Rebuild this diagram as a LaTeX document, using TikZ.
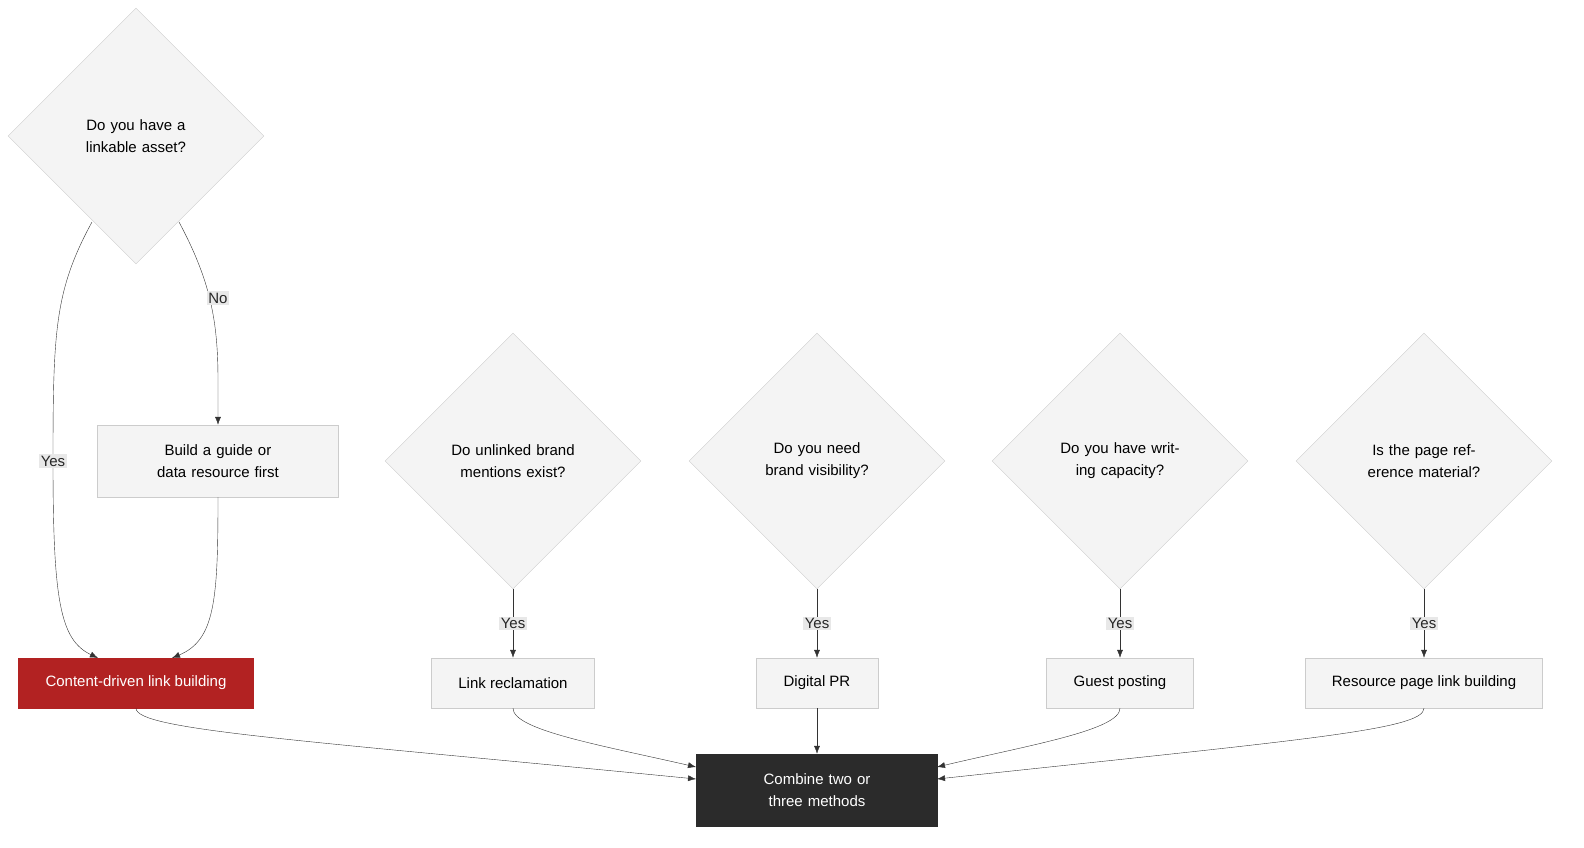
\documentclass[tikz,border=0pt]{standalone}
\usepackage{fontspec}
\setmainfont{Liberation Sans}
\usetikzlibrary{shapes.geometric,arrows.meta}
\definecolor{nodefill}{HTML}{F4F4F4}
\definecolor{nodeline}{HTML}{CCCCCC}
\definecolor{redbox}{HTML}{B22222}
\definecolor{darkbox}{HTML}{2B2B2B}
\definecolor{lblfill}{HTML}{E8E8E8}
\tikzset{
  question/.style={diamond, aspect=1, minimum width=256pt, minimum height=256pt, inner sep=0pt,
    fill=nodefill, draw=nodeline, text width=150pt, align=center, font=\fontsize{15}{22}\selectfont},
  method/.style={rectangle, fill=nodefill, draw=nodeline, minimum height=50pt, align=center,
    font=\fontsize{15}{22}\selectfont},
  link/.style={draw=black!80, -{Latex[length=8pt,width=6pt]}},
  lbl/.style={fill=lblfill, inner sep=1.5pt, font=\fontsize{15}{18}\selectfont, text=black!85}
}
\begin{document}
\begin{tikzpicture}[x=1pt,y=-1pt]
\useasboundingbox (0,0) rectangle (1584,848);
% decisions
\node[question] (asset) at (136,136) {Do you have a linkable asset?};
\node[question] (mentions) at (513,461) {Do unlinked brand mentions exist?};
\node[question] (visible) at (817,461) {Do you need brand visibility?};
\node[question] (writing) at (1120,461) {Do you have writing capacity?};
\node[question] (refpage) at (1424,461) {Is the page reference material?};
% methods
\node[method, minimum width=241pt, minimum height=72pt, text width=200pt] (guide) at (218,461) {Build a guide or data resource first};
\node[method, minimum width=235pt, fill=redbox, draw=redbox, text=white] (content) at (136,683) {Content-driven link building};
\node[method, minimum width=163pt] (reclaim) at (513,683) {Link reclamation};
\node[method, minimum width=122pt] (pr) at (817,683) {Digital PR};
\node[method, minimum width=147pt] (guest) at (1120,683) {Guest posting};
\node[method, minimum width=237pt] (resource) at (1424,683) {Resource page link building};
\node[method, minimum width=241pt, minimum height=72pt, text width=200pt, fill=darkbox, draw=darkbox, text=white] (combine) at (817,790) {Combine two or three methods};
% edges
\coordinate (yesin) at (98,658);
\coordinate (guidein) at (172,658);
\draw[link] (92,222) .. controls (55,290) and (53,330) .. (53,461) node[lbl] {Yes}
  .. controls (53,600) and (60,640) .. (yesin);
\draw[link] (179,222) .. controls (210,280) and (218,320) .. (218,380) -- (guide.north);
\node[lbl] at (218,298) {No};
\draw[link] (guide.south) .. controls (218,600) and (215,640) .. (guidein);
\foreach \q/\m in {mentions/reclaim, visible/pr, writing/guest, refpage/resource}
  \draw[link] (\q.south) -- node[lbl, pos=0.5] {Yes} (\m.north);
\coordinate (cwl) at (696,779);
\coordinate (cwh) at (696,767);
\coordinate (cel) at (937,779);
\coordinate (ceh) at (937,767);
\draw[link] (content.south) .. controls (136,730) and (300,740) .. (cwl);
\draw[link] (reclaim.south) .. controls (513,730) and (600,745) .. (cwh);
\draw[link] (pr.south) -- (combine.north);
\draw[link] (guest.south) .. controls (1120,730) and (1030,745) .. (ceh);
\draw[link] (resource.south) .. controls (1424,730) and (1300,740) .. (cel);
\end{tikzpicture}
\end{document}
